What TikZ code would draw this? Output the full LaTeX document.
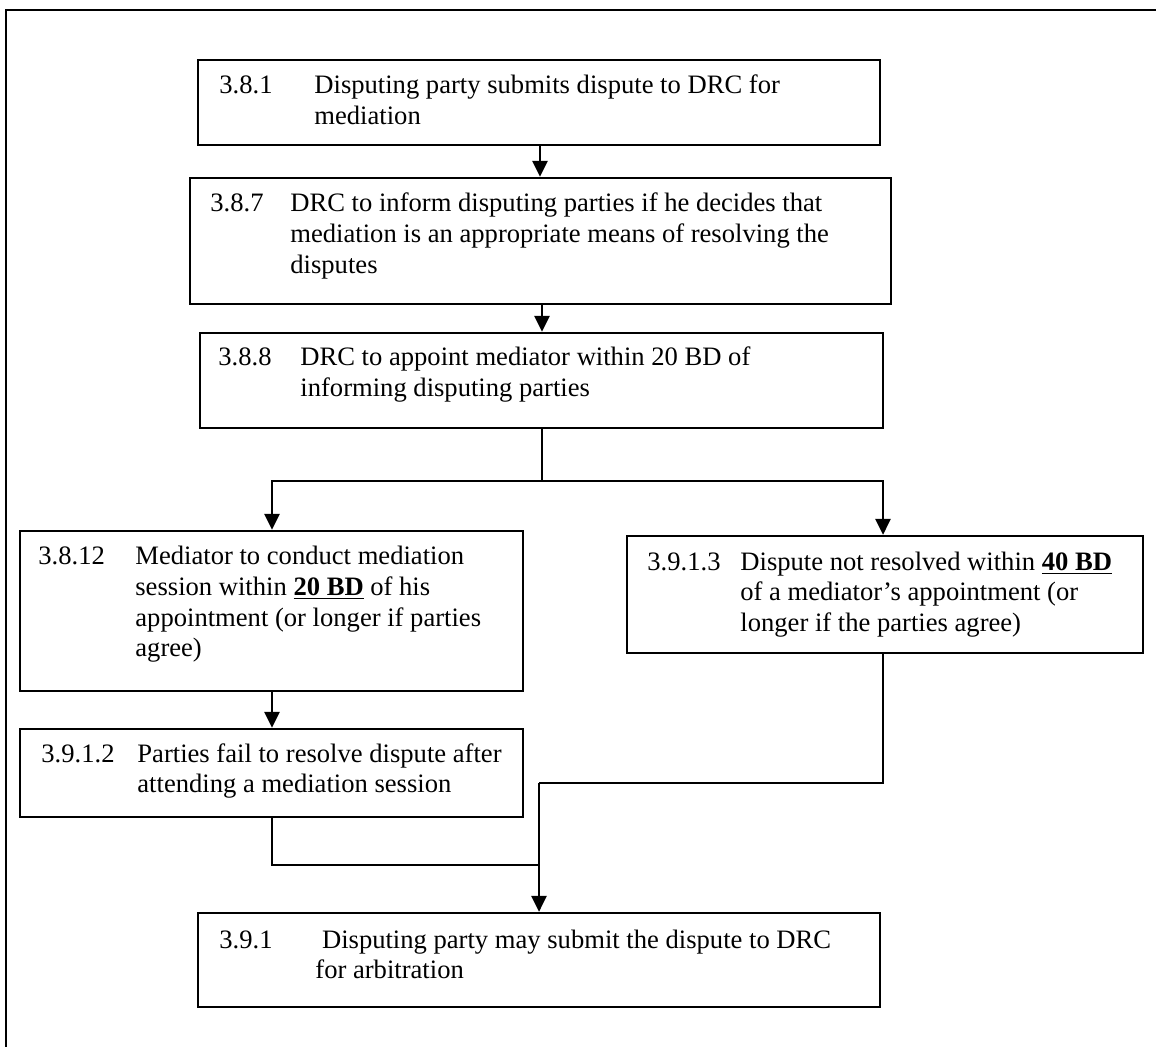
\documentclass[tikz,border=0pt]{standalone}
\usepackage{fontspec}
\setmainfont{Liberation Serif}
\usetikzlibrary{fit,arrows.meta}
\begin{document}
\begin{tikzpicture}[x=0.5pt,y=-0.5pt,
  box/.style={draw=black,line width=1.1pt,inner sep=0pt,rectangle},
  txt/.style={inner sep=0pt,anchor=base west,align=left,font=\fontsize{13.3}{15.3}\selectfont},
  conn/.style={draw=black,line width=1.4pt},
  arr/.style={conn,-{Triangle[width=7.5pt,length=8pt]}},
  frame/.style={draw=black,line width=1.3pt}]
\useasboundingbox (0,0) rectangle (1156,1047);
\draw[frame] (6,1047) -- (6,10) -- (1156,10);
% boxes
\node[box,fit={(198,60) (880,145)}] (b1) {};
\node[box,fit={(190,178) (891,304)}] (b2) {};
\node[box,fit={(200,333) (883,428)}] (b3) {};
\node[box,fit={(20,531) (523,691)}] (b4) {};
\node[box,fit={(627,536) (1143,653)}] (b5) {};
\node[box,fit={(20,729) (523,817)}] (b6) {};
\node[box,fit={(198,913) (880,1007)}] (b7) {};
% texts (multi-line nodes: base = baseline of the last line)
\node[txt] (t1n) at (219,94) {3.8.1};
\node[txt] (t1) at (314,124.6) {Disputing party submits dispute to DRC for\\mediation};
\node[txt] (t2n) at (210,212) {3.8.7};
\node[txt] (t2) at (290,273.2) {DRC to inform disputing parties if he decides that\\mediation is an appropriate means of resolving the\\disputes};
\node[txt] (t3n) at (218,366) {3.8.8};
\node[txt] (t3) at (300,396.6) {DRC to appoint mediator within 20 BD of\\informing disputing parties};
\node[txt] (t4n) at (38,565) {3.8.12};
\node[txt] (t4) at (135,656.8) {Mediator to conduct mediation\\session within \underline{\textbf{20 BD}} of his\\appointment (or longer if parties\\agree)};
\node[txt] (t5n) at (647,570) {3.9.1.3};
\node[txt] (t5) at (740,631.2) {Dispute not resolved within \underline{\textbf{40 BD}}\\of a mediator’s appointment (or\\longer if the parties agree)};
\node[txt] (t6n) at (41,762) {3.9.1.2};
\node[txt] (t6) at (137,792.6) {Parties fail to resolve dispute after\\attending a mediation session};
\node[txt] (t7n) at (219,948) {3.9.1};
\node[txt] (t7) at (315,978.6) {\ Disputing party may submit the dispute to DRC\\for arbitration};
% connectors
\coordinate (c1) at (540,0);
\coordinate (c2) at (542,0);
\coordinate (cl) at (272,0);
\coordinate (cr) at (883,0);
\coordinate (j1) at (542,481);
\coordinate (j2) at (539,865);
\coordinate (j3) at (539,783);
\draw[arr] (b1.south -| c1) -- (b2.north -| c1);
\draw[arr] (b2.south -| c2) -- (b3.north -| c2);
\draw[conn] (b3.south -| c2) -- (j1);
\draw[arr] (j1) -| (b4.north -| cl);
\draw[arr] (j1) -| (b5.north -| cr);
\draw[arr] (b4.south -| cl) -- (b6.north -| cl);
\draw[conn] (b6.south -| cl) |- (j2);
\draw[conn] (b5.south -| cr) |- (j3);
\draw[arr] (j3) -- (b7.north -| j3);
\end{tikzpicture}
\end{document}
